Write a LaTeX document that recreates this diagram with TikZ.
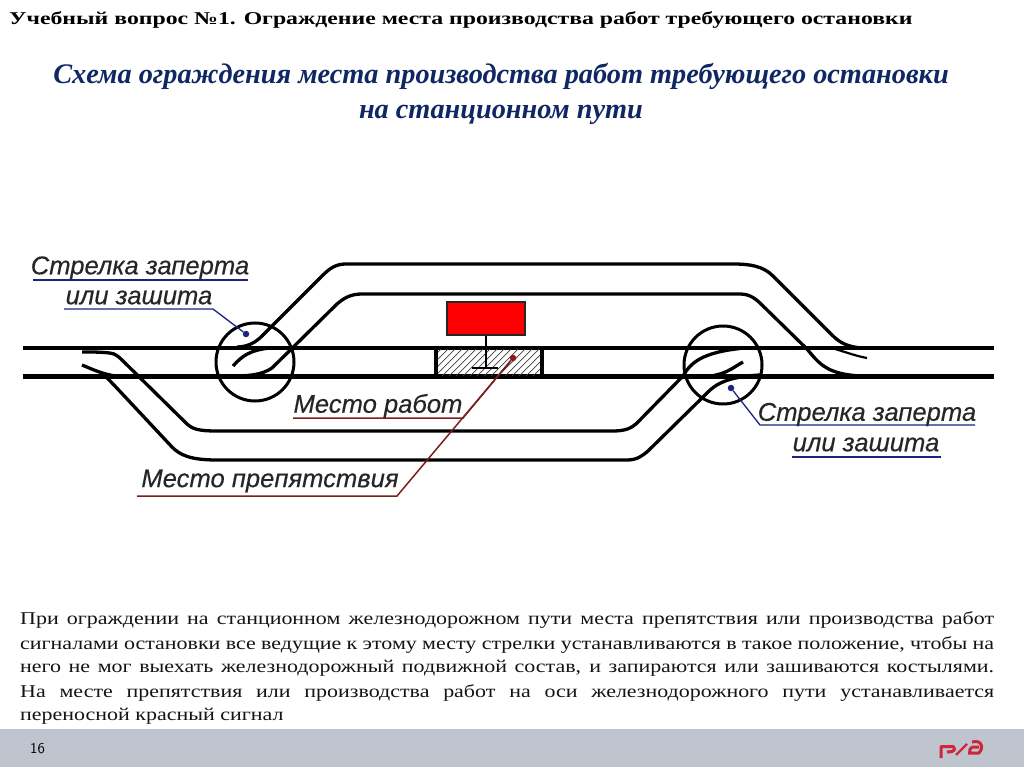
\documentclass[tikz,border=0pt]{standalone}
\usepackage{fontspec}
\setmainfont{Liberation Serif}
\newfontfamily\lsans[FakeBold=0.35]{Liberation Sans}
\newfontfamily\titlef[FakeStretch=1.32]{Liberation Serif}
\newfontfamily\bodyf[FakeStretch=1.22]{Liberation Serif}
\definecolor{barc}{HTML}{BEC5CE}
\definecolor{headc}{HTML}{0F2763}
\definecolor{leadb}{HTML}{1A2480}
\definecolor{leadr}{HTML}{7A1F1F}
\definecolor{logoc}{HTML}{D0263A}
\tikzset{
  track/.style={line width=3.3pt,black,line cap=butt,line join=round},
  rail/.style={line width=4.2pt,black},
  ring/.style={line width=3pt,black,draw,circle,minimum size=78pt,inner sep=0pt},
  lab/.style={font=\lsans\itshape\fontsize{25.6}{26}\selectfont,text=black!85,inner sep=0pt},
  leadblue/.style={line width=1.3pt,leadb},
  leadred/.style={line width=1.5pt,leadr},
  dotb/.style={circle,fill=leadb,inner sep=0pt,minimum size=6.5pt},
  dotr/.style={circle,fill=leadr!80!red,inner sep=0pt,minimum size=6.5pt},
  parline/.style={anchor=base west,inner sep=0pt,text=black!92,font=\bodyf\fontsize{18}{18}\selectfont},
  head/.style={font=\bfseries\itshape\fontsize{28.3}{29}\selectfont,text=headc,inner sep=0pt},
}
\newcommand{\pline}[1]{\hbox to 974pt{#1}}
\begin{document}
\begin{tikzpicture}[x=1pt,y=-1pt]
\useasboundingbox (0,0) rectangle (1024,767);
\fill[white] (0,0) rectangle (1024,767);
% titles
\node[anchor=west,inner sep=0pt,font=\titlef\bfseries\fontsize{18}{18}\selectfont] (title) at (9,20.5) {Учебный вопрос №1. Ограждение места производства работ требующего остановки};
\node[head] (h1) at (501,76) {Схема ограждения места производства работ требующего остановки};
\node[head] (h2) at (501,115) {на станционном пути};
% rails
\draw[rail] (23,348) -- (994,348);
\draw[rail] (23,376.5) -- (994,376.5);
% upper siding, outer
\draw[track] (237,347) .. controls (248,347) and (256,342) .. (262,336) -- (322,276) .. controls (330,268) and (336,264) .. (346,264) -- (733,264) .. controls (750,264) and (763,266) .. (773,276) -- (832,335) .. controls (840,343) and (848,347) .. (862,348);
\draw[line width=2.2pt] (828,347) .. controls (840,350) and (855,356) .. (867,358);
% upper siding, inner
\draw[track] (233,376) .. controls (248,376) and (262,375) .. (272,368) -- (337,304) .. controls (345,297) and (352,294) .. (362,294) -- (740,294) .. controls (750,294) and (756,299) .. (762,305) -- (807,349) .. controls (820,365) and (828,374) .. (860,376);
\draw[track] (233,366) .. controls (242,356) and (250,350) .. (270,348);
% lower siding, outer
\draw[track] (82,352) .. controls (95,352) and (108,352) .. (114,354) .. controls (118,356) and (120,358) .. (122,360) -- (186,423) .. controls (192,429) and (198,431) .. (217,431) -- (612,431) .. controls (624,431) and (630,429) .. (636,424) -- (683,376) .. controls (690,364) and (700,352) .. (745,348);
\draw[track] (743,362) .. controls (732,368) and (725,376) .. (700,377);
% lower siding, inner
\draw[track] (82,365) .. controls (92,369) and (105,376) .. (125,377);
\draw[track] (100,373) .. controls (106,376) and (110,381) .. (114,385) -- (172,447) .. controls (180,455) and (190,460) .. (217,460) -- (627,460) .. controls (637,460) and (642,456) .. (648,451) -- (703,397) .. controls (712,388) and (720,377) .. (760,375);
% switch circles
\node[ring] (sw1) at (255,362) {};
\node[ring] (sw2) at (723,365) {};
% work site
\begin{scope}
\clip (434,349) rectangle (542,375);
\foreach \k in {0,7,...,154}{
  \draw[line width=.7pt,black!75] (410+\k,380) -- (445+\k,345);
}
\end{scope}
\draw[line width=4pt] (435.5,348) -- (435.5,376);
\draw[line width=4pt] (541.5,348) -- (541.5,376);
% red signal
\node[draw=black!85,line width=2.2pt,fill=red,minimum width=78pt,minimum height=33pt,inner sep=0pt] (sig) at (486,318.5) {};
\coordinate (sigbase) at (486,368);
\draw[line width=2.4pt] (sig.south) -- (sigbase);
\draw[line width=2.6pt] (472,368) -- (498,368);
% labels
\node[lab] (la1) at (140,268) {Стрелка заперта};
\node[lab] (la2) at (139,297.5) {или зашита};
\node[lab] (lb1) at (867,414.5) {Стрелка заперта};
\node[lab] (lb2) at (866,444.5) {или зашита};
\node[lab] (lw) at (378,406) {Место работ};
\node[lab] (lp) at (270,481) {Место препятствия};
% leaders
\node[dotb] (da) at (246,334) {};
\node[dotb] (db) at (731,388) {};
\node[dotr] (dr) at (513,358) {};
\coordinate (a1l) at (33,280); \coordinate (a1r) at (248,280);
\coordinate (a2l) at (64,309); \coordinate (a2r) at (213,309);
\coordinate (b1l) at (760,425); \coordinate (b1r) at (975,425);
\coordinate (b2l) at (792,457); \coordinate (b2r) at (941,457);
\coordinate (wl) at (293,418); \coordinate (wr) at (463,418);
\coordinate (pl) at (137,496); \coordinate (pr) at (397,496);
\draw[leadblue] (a1l) -- (a1r);
\draw[leadblue] (a2l) -- (a2r) -- (da);
\draw[leadblue] (b1r) -- (b1l) -- (db);
\draw[leadblue] (b2l) -- (b2r);
\draw[leadred] (wl) -- (wr) -- (dr);
\draw[leadred] (pl) -- (pr) -- (dr);
% paragraph
\node[parline] (p1) at (20,624) {\pline{При ограждении на станционном железнодорожном пути места препятствия или производства работ}};
\node[parline] (p2) at (20,649) {\pline{сигналами остановки все ведущие к этому месту стрелки устанавливаются в такое положение, чтобы на}};
\node[parline] (p3) at (20,672) {\pline{него не мог выехать железнодорожный подвижной состав, и запираются или зашиваются костылями.}};
\node[parline] (p4) at (20,697) {\pline{На месте препятствия или производства работ на оси железнодорожного пути устанавливается}};
\node[parline] (p5) at (20,720) {переносной красный сигнал};
% footer
\fill[barc] (0,729) rectangle (1024,767);
\node[anchor=center,inner sep=0pt,font=\fontsize{15}{15}\selectfont\sffamily] (pg) at (37.5,749) {16};
% logo
\begin{scope}[line width=3pt,logoc,line join=round,line cap=butt]
\draw (941,758) -- (941,746.5) -- (953,746.5) .. controls (956,749) and (955,752) .. (947,752);
\draw[line width=2.4pt] (956,755) -- (967,744);
\draw (968,753) -- (979,753) .. controls (983,749) and (983,742) .. (976,741.5) -- (972,742);
\draw (979,747) -- (973,747) .. controls (969,748) and (969,752) .. (971,753);
\end{scope}
\end{tikzpicture}
\end{document}
